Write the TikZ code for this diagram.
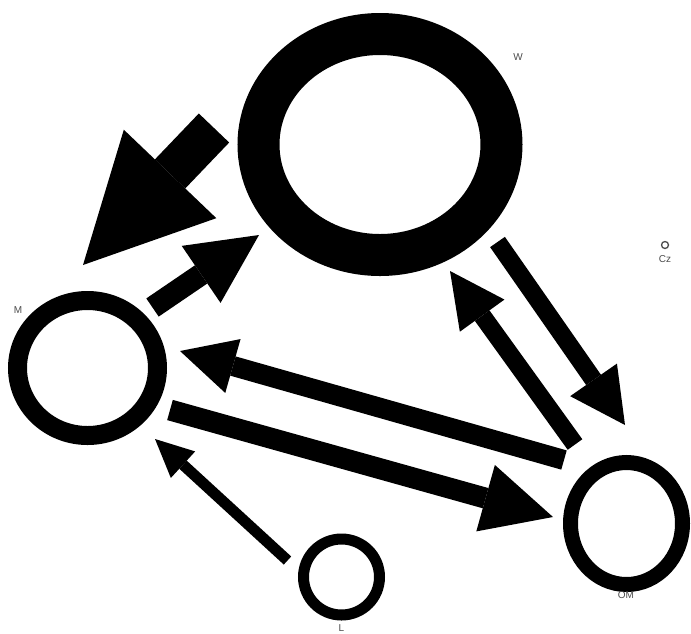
\documentclass[tikz,border=0pt]{standalone}
\usepackage{fontspec}
\setmainfont{Liberation Sans}
\usetikzlibrary{arrows.meta,calc,shapes.geometric}
\begin{document}
\begin{tikzpicture}[x=1pt,y=-1pt,
  ring/.style={draw=black,ellipse,inner sep=0pt,outer sep=0pt},
  lab/.style={text=black!70,font=\fontsize{10}{11}\selectfont,inner sep=0pt},
  arr/.style n args={3}{draw=black,line width=#1,
     -{Triangle[width=#2,length=#3,line width=0pt]}}]
\useasboundingbox (0,0) rectangle (691,633);
% nodes
\node[ring,line width=42pt,minimum width=243pt,minimum height=221pt] (W) at (380,144.5) {};
\node[ring,line width=19pt,minimum width=140pt,minimum height=135pt] (M) at (87.5,368) {};
\node[ring,line width=15pt,minimum width=112pt,minimum height=122pt] (OM) at (626.5,523.5) {};
\node[ring,line width=11pt,minimum width=76pt,minimum height=76pt] (L) at (341.5,577) {};
\node[ring,draw=black!70,line width=1.3pt,minimum width=7pt,minimum height=7pt] (Cz) at (665,245) {};
% labels
\node[lab] (Wl) at (518,57) {W};
\node[lab] (Ml) at (18,310) {M};
\node[lab] (OMl) at (626,595) {OM};
\node[lab] (Ll) at (341.5,628) {L};
\node[lab] (Czl) at (665,259) {Cz};
% connectors
\draw[arr={42pt}{128pt}{126pt}] ($(W)+(-166,-16.5)$) -- ($(M)+(-4.5,-103)$);
\draw[arr={22pt}{69pt}{70pt}] ($(M)+(65,-60.5)$) -- ($(W)+(-121,90.5)$);
\draw[arr={18pt}{57pt}{55pt}] ($(W)+(117.5,97.5)$) -- ($(OM)+(-1.5,-98.5)$);
\draw[arr={18pt}{55pt}{55pt}] ($(OM)+(-51.5,-79)$) -- ($(W)+(70,126.5)$);
\draw[arr={20pt}{56pt}{55pt}] ($(OM)+(-62.5,-63.5)$) -- ($(M)+(92.5,-17)$);
\draw[arr={21pt}{69pt}{70pt}] ($(M)+(82.5,42)$) -- ($(OM)+(-73.5,-6.5)$);
\draw[arr={11pt}{36pt}{38pt}] ($(L)+(-54,-16.5)$) -- ($(M)+(67.5,71)$);
\end{tikzpicture}
\end{document}
